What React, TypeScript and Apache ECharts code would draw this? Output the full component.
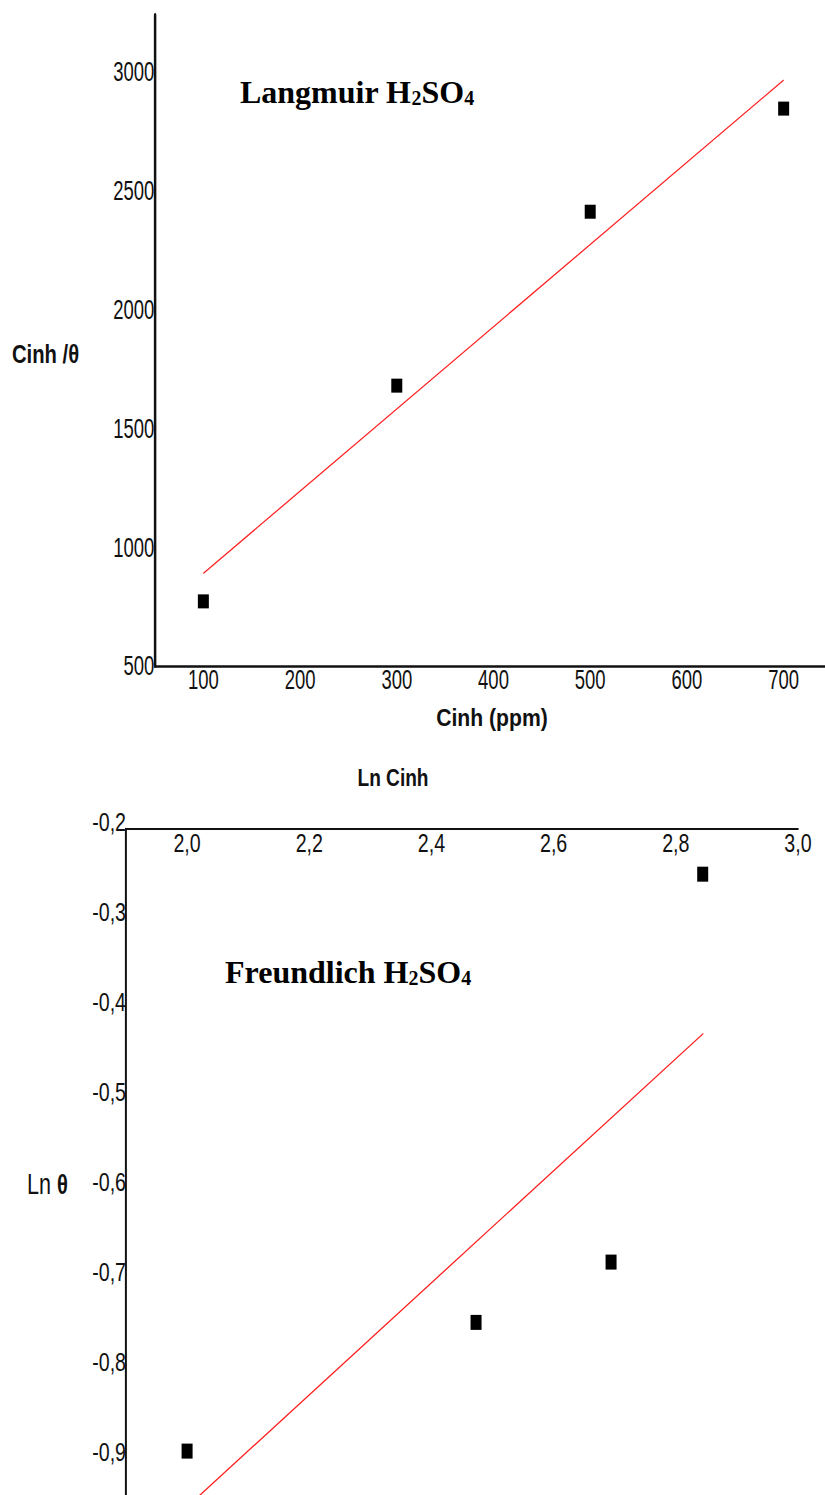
import React, { useEffect, useRef } from "react";
import * as echarts from "echarts";

// Langmuir isotherm: inhibitor concentration (ppm) vs Cinh/θ
const langmuirConc = [100, 300, 500, 700];
const langmuirRatio = [772, 1680, 2412, 2846];
const langmuirFitX = [100, 700];
const langmuirFitY = [890, 2966];
const langmuirYTicks = { min: 500, max: 3240, step: 500 };
const langmuirXRange = { min: 50, max: 750 };

// Freundlich isotherm: Ln Cinh vs Ln θ
const freundlichLnC = [2.0, 2.473, 2.694, 2.844];
const freundlichLnTheta = [-0.899, -0.756, -0.689, -0.258];
const freundlichFitX = [2.0, 2.845];
const freundlichFitY = [-0.961, -0.435];
const freundlichYTicks = { min: -1.0, max: -0.2078, step: 0.1 };
const freundlichXRange = { min: 1.9, max: 3.0 };

const PAGE_W = 825;
const PAGE_H = 1495;

// Each plot is drawn in a horizontally condensed frame (narrow tick lettering);
// sx is the horizontal scale applied to that frame.
const SX_TOP = 0.66;
const SX_BOTTOM = 0.77;

const SANS = "'Liberation Sans', Arial, sans-serif";
const SERIF = "'Liberation Serif', 'Times New Roman', serif";
const INK = "#111";

const comma1 = (v: number) => v.toFixed(1).replace(".", ",");

function titleText(label: string, x: number, y: number, sx: number) {
  return {
    type: "text",
    x,
    y,
    scaleX: 1 / sx,
    style: {
      text: `{a|${label} H}{b|2}{a|SO}{b|4}`,
      verticalAlign: "middle",
      rich: {
        a: { fontFamily: SERIF, fontWeight: "bold", fontSize: 32, fill: "#000" },
        b: { fontFamily: SERIF, fontWeight: "bold", fontSize: 20, fill: "#000", verticalAlign: "bottom" },
      },
    },
  };
}

function langmuirOption() {
  const sx = SX_TOP;
  const X = (p: number) => p / sx;
  const tick = { fontFamily: SANS, fontSize: 28, color: INK };
  return {
    animation: false,
    backgroundColor: "transparent",
    grid: { left: X(155), top: 15, width: X(677), height: 651, outerBoundsMode: "none", containLabel: false },
    xAxis: {
      type: "value",
      min: langmuirXRange.min,
      max: langmuirXRange.max,
      splitNumber: 7,
      axisLine: { onZero: false, lineStyle: { color: INK, width: 2.6 } },
      axisTick: { show: false },
      splitLine: { show: false },
      axisLabel: {
        ...tick,
        margin: 0,
        showMinLabel: false,
        showMaxLabel: false,
        formatter: (v: number) => (v % 100 === 0 ? String(v) : ""),
      },
    },
    yAxis: {
      type: "value",
      min: langmuirYTicks.min,
      max: langmuirYTicks.max,
      interval: langmuirYTicks.step,
      axisLine: { onZero: false, lineStyle: { color: INK, width: 2.5 / sx } },
      axisTick: { show: false },
      splitLine: { show: false },
      axisLabel: { ...tick, margin: 1, showMaxLabel: false, formatter: (v: number) => String(v) },
    },
    series: [
      {
        type: "line",
        data: langmuirFitX.map((x, i) => [x, langmuirFitY[i]]),
        symbol: "none",
        lineStyle: { color: "#ff1a1a", width: 1.4 },
        z: 2,
      },
      {
        type: "scatter",
        data: langmuirConc.map((x, i) => [x, langmuirRatio[i]]),
        symbol: "rect",
        symbolSize: [11 / sx, 14],
        itemStyle: { color: "#000", opacity: 1 },
        z: 3,
      },
    ],
    graphic: [
      titleText("Langmuir", X(240), 92, sx),
      {
        type: "text",
        x: X(12),
        y: 354,
        scaleX: 0.81 / sx,
        style: { text: "Cinh /θ", verticalAlign: "middle", fontFamily: SANS, fontWeight: "bold", fontSize: 25, fill: INK },
      },
      {
        type: "text",
        x: X(492),
        y: 718,
        scaleX: 0.92 / sx,
        style: {
          text: "Cinh (ppm)",
          align: "center",
          verticalAlign: "middle",
          fontFamily: SANS,
          fontWeight: "bold",
          fontSize: 23,
          fill: INK,
        },
      },
    ],
  };
}

function freundlichOption() {
  const sx = SX_BOTTOM;
  const X = (p: number) => p / sx;
  const tick = { fontFamily: SANS, fontSize: 25.5, color: INK };
  const topValue = freundlichYTicks.max;
  return {
    animation: false,
    backgroundColor: "transparent",
    grid: { left: X(126), top: 829, width: X(672), height: 713, outerBoundsMode: "none", containLabel: false },
    xAxis: {
      type: "value",
      position: "top",
      min: freundlichXRange.min,
      max: freundlichXRange.max,
      splitNumber: 5,
      axisLine: { onZero: false, lineStyle: { color: INK, width: 2 } },
      axisTick: { show: false },
      splitLine: { show: false },
      axisLabel: { ...tick, inside: true, margin: 1, showMinLabel: false, formatter: comma1 },
    },
    yAxis: {
      type: "value",
      min: freundlichYTicks.min,
      max: freundlichYTicks.max,
      interval: freundlichYTicks.step,
      axisLine: { onZero: false, lineStyle: { color: INK, width: 2 / sx } },
      axisTick: { show: false },
      splitLine: { show: false },
      axisLabel: {
        ...tick,
        margin: 0,
        lineHeight: 14,
        showMinLabel: false,
        showMaxLabel: true,
        // the top label sits just above the corner where the two axes meet
        formatter: (v: number) => (Math.abs(v - topValue) < 1e-6 ? comma1(v) + "\n " : comma1(v)),
      },
    },
    series: [
      {
        type: "line",
        data: freundlichFitX.map((x, i) => [x, freundlichFitY[i]]),
        symbol: "none",
        lineStyle: { color: "#ff1a1a", width: 1.4 },
        z: 2,
      },
      {
        type: "scatter",
        data: freundlichLnC.map((x, i) => [x, freundlichLnTheta[i]]),
        symbol: "rect",
        symbolSize: [11 / sx, 15],
        itemStyle: { color: "#000", opacity: 1 },
        z: 3,
      },
    ],
    graphic: [
      titleText("Freundlich", X(225), 972, sx),
      {
        type: "text",
        x: X(393),
        y: 778,
        scaleX: 0.83 / sx,
        style: {
          text: "Ln Cinh",
          align: "center",
          verticalAlign: "middle",
          fontFamily: SANS,
          fontWeight: "bold",
          fontSize: 23,
          fill: INK,
        },
      },
      {
        type: "text",
        x: X(27),
        y: 1184,
        scaleX: 0.72 / sx,
        style: {
          text: "{a|Ln }{b|θ}",
          verticalAlign: "middle",
          rich: {
            a: { fontFamily: SANS, fontSize: 30, fill: INK },
            b: { fontFamily: SANS, fontWeight: "bold", fontSize: 28, fill: INK },
          },
        },
      },
    ],
  };
}

function ChartLayer({ sx, build }: { sx: number; build: () => any }) {
  const ref = useRef<HTMLDivElement>(null);

  useEffect(() => {
    if (!ref.current) return;
    const chart = echarts.init(ref.current, null, { renderer: "svg" });
    chart.setOption(build());
    return () => chart.dispose();
  }, [sx, build]);

  return (
    <div
      ref={ref}
      style={{
        position: "absolute",
        left: 0,
        top: 0,
        width: PAGE_W / sx,
        height: PAGE_H,
        transform: `scaleX(${sx})`,
        transformOrigin: "0 0",
      }}
    />
  );
}

export default function App() {
  return (
    <div
      style={{
        position: "absolute",
        left: 0,
        top: 0,
        width: PAGE_W,
        height: PAGE_H,
        overflow: "hidden",
        background: "#fff",
      }}
    >
      <ChartLayer sx={SX_TOP} build={langmuirOption} />
      <ChartLayer sx={SX_BOTTOM} build={freundlichOption} />
    </div>
  );
}
